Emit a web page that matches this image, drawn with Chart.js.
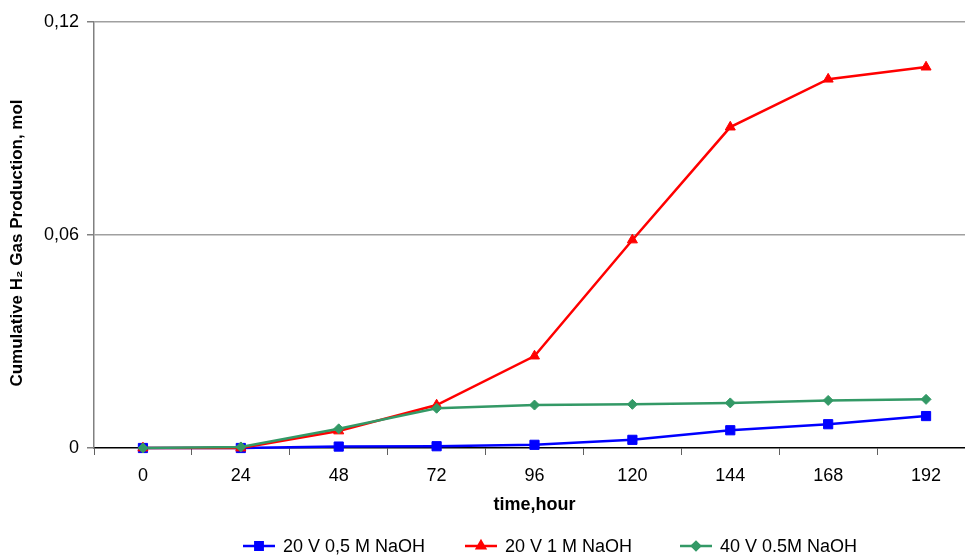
<!DOCTYPE html>
<html>
<head>
<meta charset="utf-8">
<script src="https://cdn.jsdelivr.net/npm/chart.js@4.4.1/dist/chart.umd.min.js"></script>
<style>
html,body{margin:0;padding:0;background:#fff;overflow:hidden;}
#wrap{width:985px;height:555px;}
</style>
</head>
<body>
<div id="wrap"><canvas id="c" width="985" height="555"></canvas></div>
<script>
const categories = ['0','24','48','72','96','120','144','168','192'];
const yTickLabels = ['0','0,06','0,12'];
const seriesNames = ['20 V 0,5 M NaOH','20 V 1 M NaOH','40 V 0.5M NaOH'];
const blue20V05M = [0, 0, 0.0004, 0.0005, 0.0009, 0.0023, 0.0050, 0.0067, 0.0090];
const red20V1M = [0, 0, 0.0048, 0.0121, 0.0259, 0.0586, 0.0904, 0.1039, 0.1073];
const green40V05M = [0, 0.0003, 0.0054, 0.0112, 0.0121, 0.0123, 0.0127, 0.0134, 0.0137];
const xTitle = 'time,hour';
const yTitle = 'Cumulative H\u2082 Gas Production, mol';

const FONT = 'Arial, "Liberation Sans", sans-serif';

const styles = [
  {color:'#0000FF', style:'rect', r:6.5},
  {color:'#FF0000', style:'triangle', r:5.8},
  {color:'#339966', style:'rectRot', r:5}
];

const yTitlePlugin = {
  id:'yTitle',
  afterDraw(chart){
    const ctx = chart.ctx;
    ctx.save();
    ctx.translate(17, 243);
    ctx.rotate(-Math.PI/2);
    ctx.fillStyle = '#000';
    ctx.font = 'bold 17px ' + FONT;
    ctx.textAlign = 'center';
    ctx.textBaseline = 'middle';
    ctx.fillText(yTitle, 0, 0);
    ctx.restore();
  }
};

const legendPlugin = {
  id:'customLegend',
  afterDraw(chart){
    const ctx = chart.ctx;
    const xs = [243, 465, 680];
    const y = 546;
    ctx.save();
    chart.data.datasets.forEach((ds, i) => {
      const st = styles[i];
      const x0 = xs[i];
      ctx.strokeStyle = st.color;
      ctx.lineWidth = 2.5;
      ctx.beginPath();
      ctx.moveTo(x0, y);
      ctx.lineTo(x0 + 32, y);
      ctx.stroke();
      ctx.fillStyle = st.color;
      Chart.helpers.drawPoint(ctx, {pointStyle: st.style, radius: st.r*0.8, rotation:0, borderWidth:1}, x0 + 16, y);
      ctx.fill();
      ctx.fillStyle = '#000';
      ctx.font = '18px ' + FONT;
      ctx.textBaseline = 'middle';
      ctx.textAlign = 'left';
      ctx.fillText(ds.label, x0 + 40, y + 1);
    });
    ctx.restore();
  }
};

const datasetsRaw = [blue20V05M, red20V1M, green40V05M];

new Chart(document.getElementById('c'), {
  type:'line',
  data:{
    labels: categories,
    datasets: datasetsRaw.map((d, i) => ({
      label: seriesNames[i],
      data: d,
      borderColor: styles[i].color,
      backgroundColor: styles[i].color,
      pointBackgroundColor: styles[i].color,
      pointBorderColor: styles[i].color,
      pointBorderWidth: 1,
      pointStyle: styles[i].style,
      pointRadius: styles[i].r,
      borderWidth: 2.5,
      tension: 0,
      order: 2 - i,
      clip: false
    }))
  },
  options:{
    responsive:false,
    devicePixelRatio:1,
    animation:false,
    events:[],
    layout:{padding:{left:0, right:10, top:22, bottom:39}},
    plugins:{legend:{display:false}, tooltip:{enabled:false}},
    scales:{
      x:{
        type:'category',
        offset:true,
        grid:{display:true, drawOnChartArea:false, drawTicks:true, tickLength:7, offset:true, color:'#808080', tickColor:'#606060'},
        border:{display:true, color:'#000000', width:1.5},
        ticks:{color:'#000', font:{family:FONT, size:18}, padding:10, maxRotation:0, autoSkip:false},
        title:{display:true, text:xTitle, color:'#000', font:{family:FONT, size:18, weight:'bold'}, padding:{top:0,bottom:0}},
        afterFit(s){ s.height = 68; }
      },
      y:{
        min:0, max:0.12,
        ticks:{stepSize:0.06, color:'#000', font:{family:FONT, size:18}, padding:8,
          callback:(v, idx) => yTickLabels[idx]},
        grid:{drawTicks:true, tickLength:7, color:(c)=> c.tick && c.tick.value === 0 ? 'rgba(0,0,0,0)' : '#a0a0a0', tickColor:'#808080', lineWidth:1.5},
        border:{display:true, color:'#808080', width:1.5},
        title:{display:false},
        afterFit(s){ s.width = 94; }
      }
    }
  },
  plugins:[legendPlugin, yTitlePlugin]
});
</script>
</body>
</html>
